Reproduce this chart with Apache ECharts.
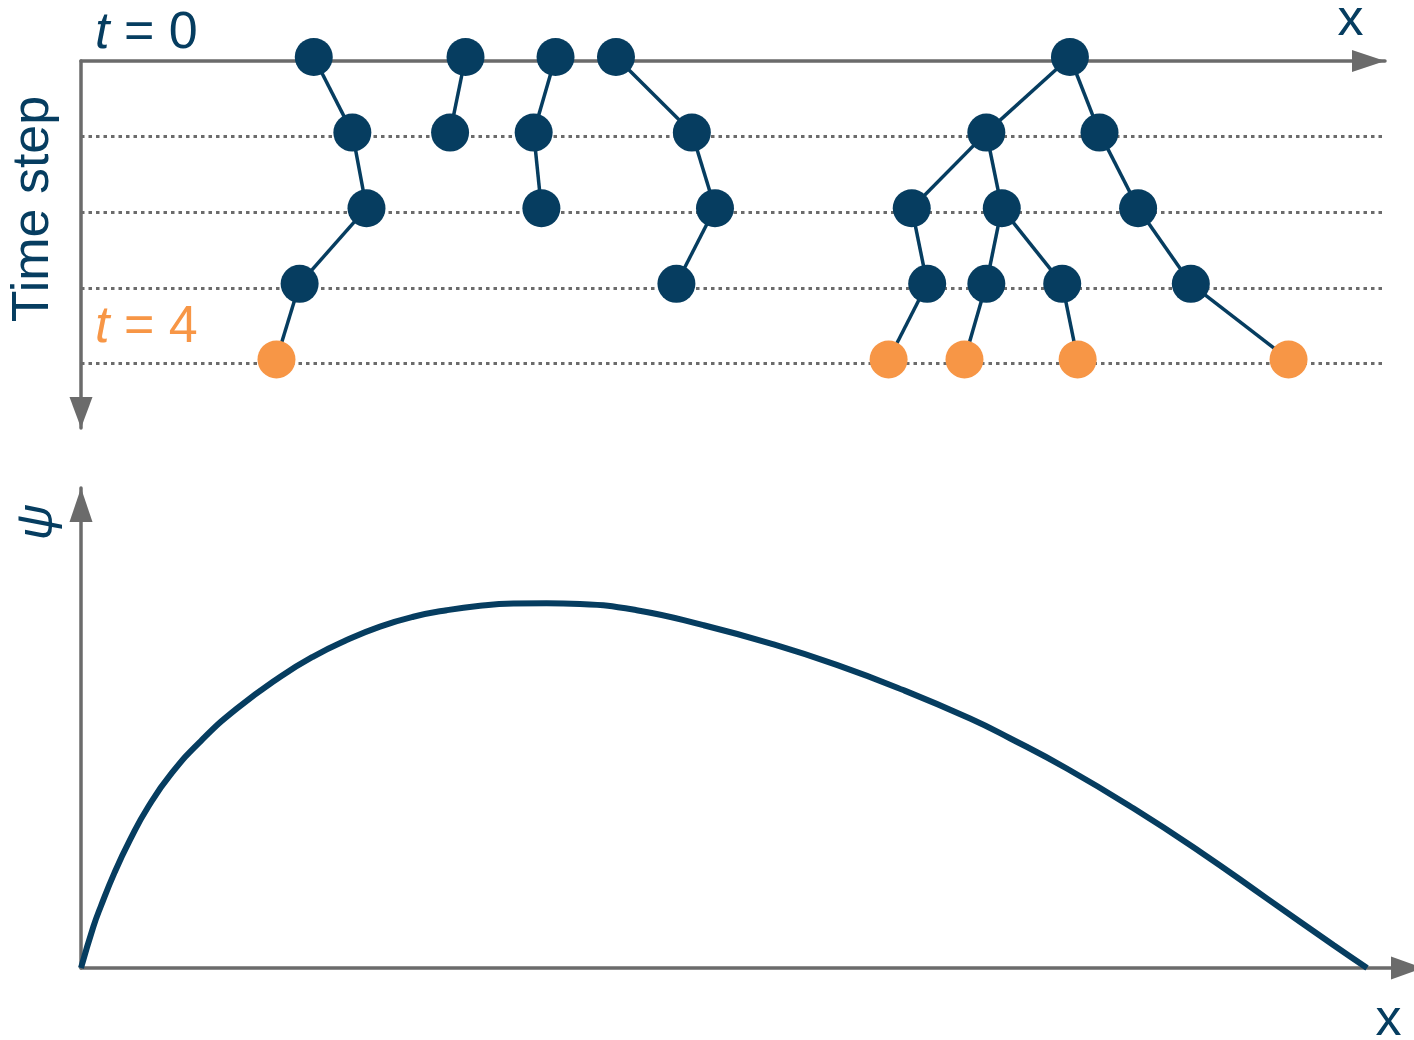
<!DOCTYPE html>
<html>
<head>
<meta charset="utf-8">
<script src="https://cdn.jsdelivr.net/npm/echarts@6/dist/echarts.min.js"></script>
<style>
  html, body { margin: 0; padding: 0; background: #ffffff; }
  #chart { width: 1414px; height: 1040px; }
</style>
</head>
<body>
<div id="chart"></div>
<script>
// Walker positions along x (0..100) at each time step, with the index of the parent walker in the previous step
const row0X = [18.1, 29.9, 36.9, 41.6, 76.9];
const row1X = [21.1, 28.7, 35.2, 47.5, 70.4, 79.2];
const row1Parent = [0, 1, 2, 3, 4, 4];
const row2X = [22.2, 35.8, 49.3, 64.6, 71.6, 82.2];
const row2Parent = [0, 2, 3, 4, 4, 5];
const row3X = [17.0, 46.3, 65.8, 70.4, 76.3, 86.3];
const row3Parent = [0, 2, 3, 4, 4, 5];
const row4X = [15.2, 62.8, 68.7, 77.5, 93.9];
const row4Parent = [0, 2, 3, 4, 5];

// Wave function psi(x), peak normalised to 1
const psiX = [0, 0.96, 1.53, 2.59, 3.81, 5.23, 7.05, 9.39, 12.11, 15.47, 18.06, 20.66, 23.25, 25.84,
  28.44, 31.03, 33.62, 36.21, 38.80, 43.21, 48.39, 53.58, 58.76, 63.94, 69.13, 72.23, 76.65, 81.83, 87.01, 92.20, 97.38, 100];
const psiY = [0, 0.113, 0.168, 0.260, 0.351, 0.442, 0.534, 0.625, 0.711, 0.798, 0.854, 0.899, 0.936, 0.963,
  0.981, 0.993, 0.999, 1.0, 0.998, 0.981, 0.940, 0.890, 0.831, 0.762, 0.684, 0.630, 0.547, 0.438, 0.319, 0.191, 0.063, 0];

const rowsX = [row0X, row1X, row2X, row3X, row4X];
const rowsParent = [null, row1Parent, row2Parent, row3Parent, row4Parent];

const navy = '#063d60';
const orange = '#f79646';
const axisGrey = '#6b6b6b';
const font = "'Liberation Sans', Arial, sans-serif";

const walkerPts = [];
const finalPts = [];
const edges = [];
rowsX.forEach(function (xs, t) {
  xs.forEach(function (x, i) {
    (t === rowsX.length - 1 ? finalPts : walkerPts).push([x, t]);
    if (t > 0) {
      const px = rowsX[t - 1][rowsParent[t][i]];
      edges.push([px, t - 1, x, t]);
    }
  });
});

// walkers sit slightly above their time-step guide line
const nodeLift = -4;

const chart = echarts.init(document.getElementById('chart'), null, { renderer: 'canvas' });
chart.setOption({
  animation: false,
  backgroundColor: '#ffffff',
  grid: [
    { left: 81, top: 61, right: 29, height: 367 },
    { left: 81, top: 488, right: 0, bottom: 72 }
  ],
  xAxis: [
    {
      gridIndex: 0, type: 'value', position: 'top', min: 0, max: 101.4,
      axisLine: { show: true, onZero: false, symbol: ['none', 'triangle'], symbolSize: [22, 33], symbolOffset: [0, -16.5],
        lineStyle: { color: axisGrey, width: 3.5 } },
      axisTick: { show: false }, axisLabel: { show: false }, splitLine: { show: false }
    },
    {
      gridIndex: 1, type: 'value', min: 0, max: 103.65,
      axisLine: { show: true, onZero: false, symbol: ['none', 'triangle'], symbolSize: [23, 32], symbolOffset: [0, -7],
        lineStyle: { color: axisGrey, width: 3.5 } },
      axisTick: { show: false }, axisLabel: { show: false }, splitLine: { show: false }
    }
  ],
  yAxis: [
    {
      gridIndex: 0, type: 'value', inverse: true, min: 0, max: 4.854, interval: 1,
      axisLine: { show: true, onZero: false, symbol: ['triangle', 'none'], symbolSize: [23, 31], symbolOffset: [15.5, 0],
        lineStyle: { color: axisGrey, width: 3.5 } },
      axisTick: { show: false }, axisLabel: { show: false },
      splitLine: { show: true, showMinLine: false, showMaxLine: false,
        lineStyle: { color: axisGrey, width: 3, type: [3.5, 4] } }
    },
    {
      gridIndex: 1, type: 'value', min: 0, max: 1.316,
      axisLine: { show: true, onZero: false, symbol: ['none', 'triangle'], symbolSize: [23, 34], symbolOffset: [0, -17],
        lineStyle: { color: axisGrey, width: 3.5 } },
      axisTick: { show: false }, axisLabel: { show: false }, splitLine: { show: false }
    }
  ],
  series: [
    {
      type: 'custom', xAxisIndex: 0, yAxisIndex: 0, clip: false, z: 3,
      data: edges,
      encode: { x: [0, 2], y: [1, 3] },
      renderItem: function (params, api) {
        const p1 = api.coord([api.value(0), api.value(1)]);
        const p2 = api.coord([api.value(2), api.value(3)]);
        return {
          type: 'line',
          shape: { x1: p1[0], y1: p1[1] + nodeLift, x2: p2[0], y2: p2[1] + nodeLift },
          style: { stroke: navy, lineWidth: 3.5 }
        };
      }
    },
    {
      type: 'scatter', xAxisIndex: 0, yAxisIndex: 0, clip: false, z: 4,
      data: walkerPts, symbol: 'circle', symbolSize: 38, symbolOffset: [0, nodeLift],
      itemStyle: { color: navy, opacity: 1 }
    },
    {
      type: 'scatter', xAxisIndex: 0, yAxisIndex: 0, clip: false, z: 4,
      data: finalPts, symbol: 'circle', symbolSize: 38, symbolOffset: [0, nodeLift],
      itemStyle: { color: orange, opacity: 1 }
    },
    {
      type: 'line', xAxisIndex: 1, yAxisIndex: 1, z: 3,
      data: psiX.map(function (x, i) { return [x, psiY[i]]; }),
      showSymbol: false, smooth: 0.5,
      lineStyle: { color: navy, width: 6 }
    }
  ],
  graphic: [
    { type: 'text', x: 95, y: 34, style: { text: '{i|t} = 0', fill: navy, font: '52px ' + font, verticalAlign: 'middle',
        rich: { i: { fontStyle: 'italic', fontSize: 52, fontFamily: font, fill: navy } } } },
    { type: 'text', x: 95, y: 328, style: { text: '{i|t} = 4', fill: orange, font: '52px ' + font, verticalAlign: 'middle',
        rich: { i: { fontStyle: 'italic', fontSize: 52, fontFamily: font, fill: orange } } } },
    { type: 'text', x: 34, y: 209, rotation: Math.PI / 2, style: { text: 'Time step', fill: navy, font: '52px ' + font,
        align: 'center', verticalAlign: 'middle' } },
    { type: 'text', x: 1350.5, y: 21, style: { text: 'x', fill: navy, font: '52px ' + font, align: 'center', verticalAlign: 'middle' } },
    { type: 'text', x: 1388.5, y: 1021, style: { text: 'x', fill: navy, font: '52px ' + font, align: 'center', verticalAlign: 'middle' } },
    { type: 'text', x: 38, y: 522, rotation: Math.PI / 2, style: { text: 'ψ', fill: navy, font: 'italic 50px ' + font,
        align: 'center', verticalAlign: 'middle' } }
  ]
});
</script>
</body>
</html>
